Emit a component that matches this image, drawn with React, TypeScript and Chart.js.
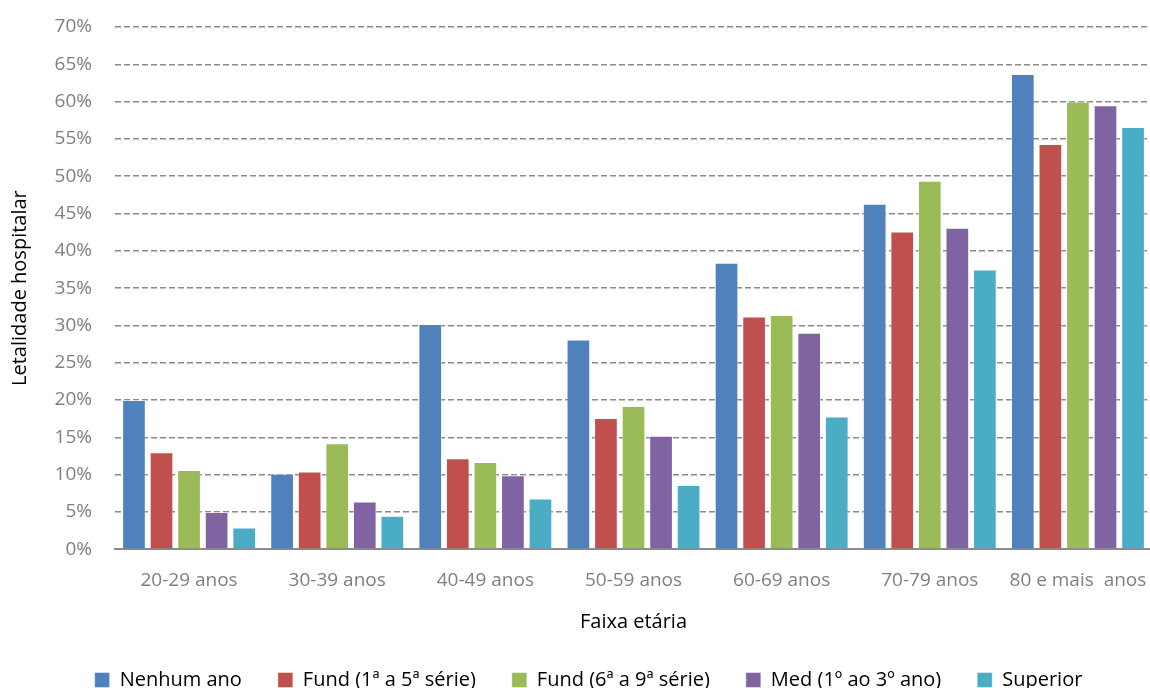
import React, { useEffect, useRef } from "react";
import { Chart, registerables } from "chart.js";

Chart.register(...registerables);

// Faixas etárias (eixo X)
const faixas = [
  "20-29 anos",
  "30-39 anos",
  "40-49 anos",
  "50-59 anos",
  "60-69 anos",
  "70-79 anos",
  "80 e mais  anos",
];

// Letalidade hospitalar (%) por escolaridade
const nenhumAno = [20.0, 10.1, 30.2, 28.1, 38.4, 46.3, 63.7];
const fund1a5 = [13.0, 10.4, 12.2, 17.6, 31.2, 42.6, 54.3];
const fund6a9 = [10.6, 14.2, 11.7, 19.2, 31.4, 49.4, 60.0];
const med1a3 = [5.0, 6.4, 9.9, 15.2, 29.0, 43.1, 59.5];
const superior = [2.9, 4.5, 6.8, 8.6, 17.8, 37.5, 56.6];

const serieNomes = [
  "Nenhum ano",
  "Fund (1ª a 5ª série)",
  "Fund (6ª a 9ª série)",
  "Med (1º ao 3º ano)",
  "Superior",
];
const serieValores = [nenhumAno, fund1a5, fund6a9, med1a3, superior];
const serieCores = ["#4F81BD", "#C0504D", "#9BBB59", "#8064A2", "#4BACC6"];

const FONT = "'Open Sans', 'DejaVu Sans', sans-serif";

// Desloca a legenda horizontalmente depois do cálculo do layout
const legendShift = {
  id: "legendShift",
  afterLayout(chart: any) {
    const lg = chart.legend;
    if (lg) {
      lg.left += 10;
      lg.right += 10;
    }
  },
};

export default function App() {
  const canvasRef = useRef<HTMLCanvasElement | null>(null);

  useEffect(() => {
    if (!canvasRef.current) return;
    const chart = new Chart(canvasRef.current, {
      type: "bar",
      data: {
        labels: faixas,
        datasets: serieNomes.map((nome, i) => ({
          label: nome,
          data: serieValores[i],
          backgroundColor: serieCores[i],
          borderColor: "rgba(255,255,255,0.45)",
          borderWidth: 1,
          categoryPercentage: 0.93,
          barPercentage: 0.86,
        })),
      },
      plugins: [legendShift],
      options: {
        responsive: false,
        animation: false,
        layout: { padding: { top: 27, left: 5, right: 0, bottom: 0 } },
        plugins: {
          tooltip: { enabled: false },
          legend: {
            position: "bottom",
            labels: {
              boxWidth: 15,
              boxHeight: 15,
              padding: 36,
              color: "#000",
              font: { family: FONT, size: 20 },
            },
          },
        },
        scales: {
          x: {
            grid: {
              display: true,
              drawOnChartArea: false,
              drawTicks: true,
              tickLength: 20,
              color: "rgba(0,0,0,0)",
            },
            border: { display: true, color: "#8a8a8a", width: 2 },
            ticks: {
              color: "#7f7f7f",
              padding: 0,
              maxRotation: 0,
              autoSkip: false,
              font: { family: FONT, size: 19 },
            },
            title: {
              display: true,
              text: "Faixa etária",
              color: "#000",
              font: { family: FONT, size: 20 },
              padding: { top: 18, bottom: 0 },
            },
          },
          y: {
            min: 0,
            max: 70,
            ticks: {
              stepSize: 5,
              color: "#7f7f7f",
              padding: 0,
              font: { family: FONT, size: 19 },
              callback: (v) => `${v}%`,
            },
            grid: {
              drawTicks: true,
              tickLength: 23,
              tickColor: "rgba(0,0,0,0)",
              color: "#8a8a8a",
              lineWidth: 1.5,
            },
            border: { display: false, dash: [6, 3] },
            title: {
              display: true,
              text: "Letalidade hospitalar",
              color: "#000",
              font: { family: FONT, size: 20 },
              padding: { top: 3, bottom: 0 },
            },
            afterFit: (scale) => {
              scale.width = 110;
            },
          },
        },
      },
    });
    return () => chart.destroy();
  }, []);

  return (
    <div
      style={{
        position: "fixed",
        left: 0,
        top: 0,
        width: 1150,
        height: 688,
        overflow: "hidden",
        background: "#fff",
      }}
    >
      <canvas
        ref={canvasRef}
        width={1152}
        height={700}
        style={{ display: "block", width: 1152, height: 700 }}
      />
    </div>
  );
}
